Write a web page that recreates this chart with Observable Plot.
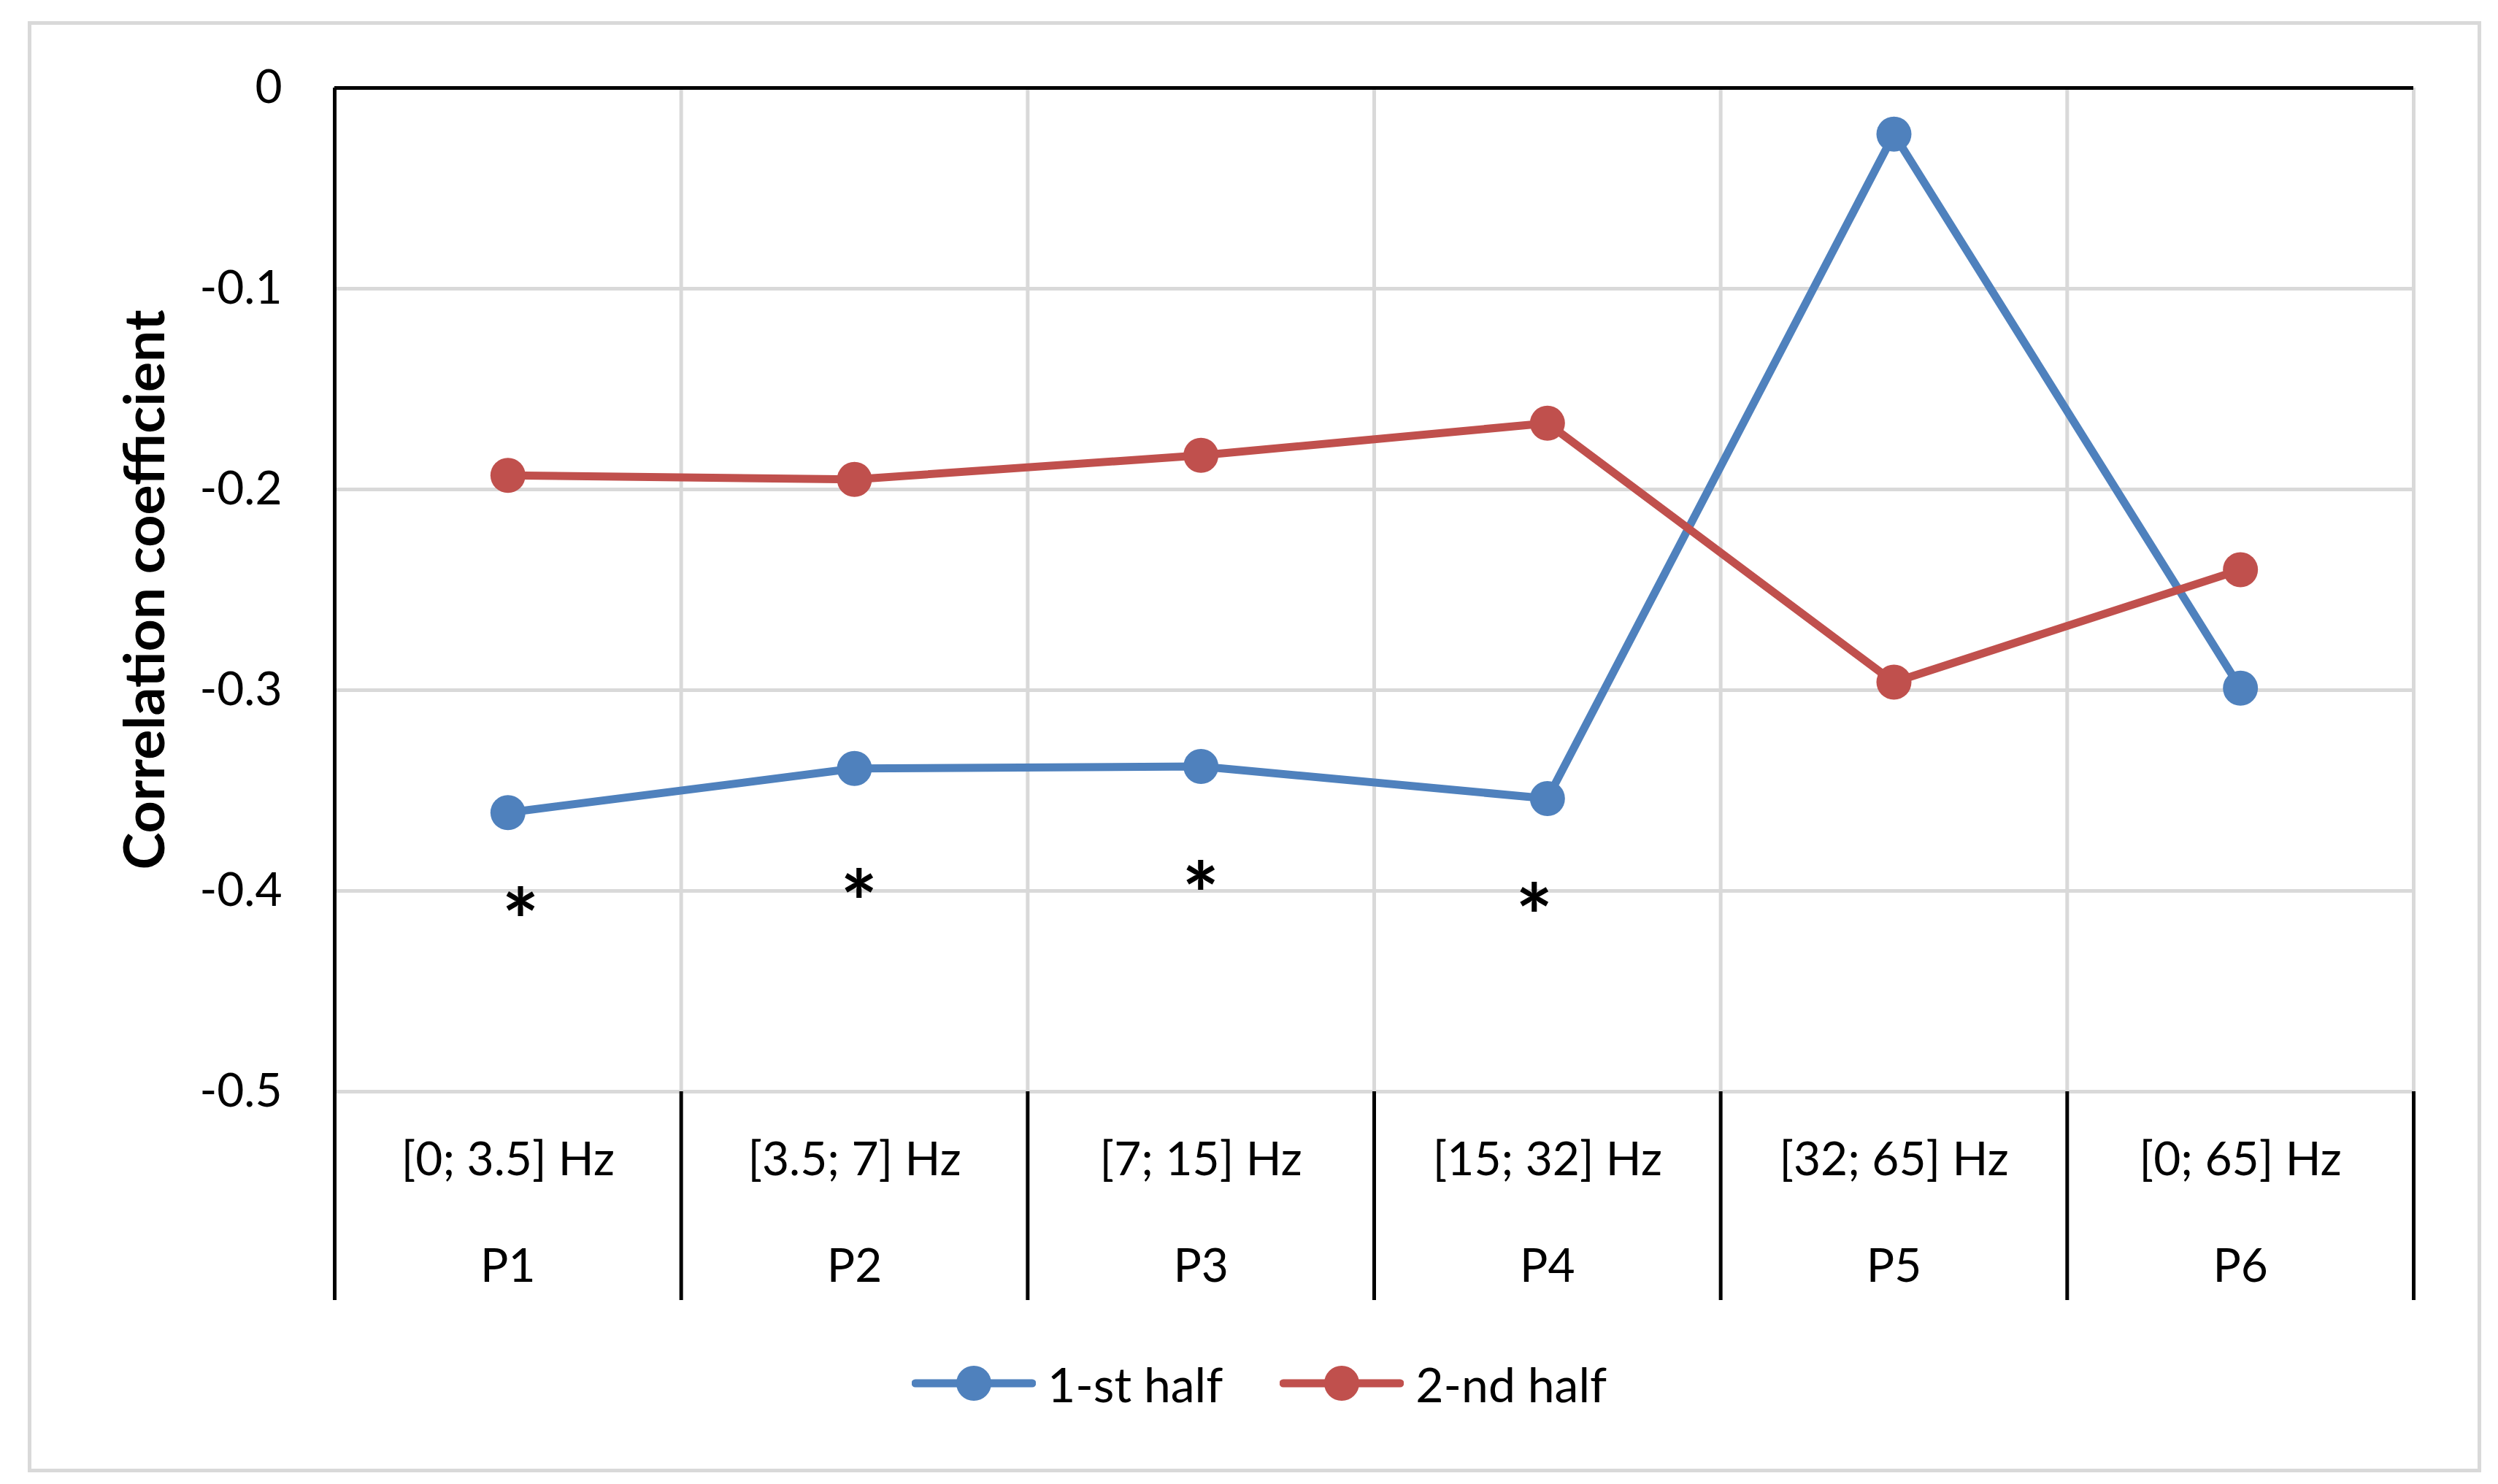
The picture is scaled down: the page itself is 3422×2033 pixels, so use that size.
<!DOCTYPE html>
<html>
<head>
<meta charset="utf-8">
<script src="https://cdn.jsdelivr.net/npm/d3@7"></script>
<script src="https://cdn.jsdelivr.net/npm/@observablehq/plot@0.6"></script>
<style>
  html, body { margin: 0; padding: 0; background: #fff; }
  body { width: 3422px; height: 2033px; position: relative; overflow: hidden; font-family: Lato, "Liberation Sans", sans-serif; }
  #frame { position: absolute; left: 38px; top: 29px; width: 3361px; height: 1988px; border: 5px solid #d9d9d9; box-sizing: border-box; }
  #chart { position: absolute; left: 0; top: 0; }
  #legend { display: flex; align-items: center; height: 110px; padding-left: 1249px; font-size: 66px; color: #000; }
  .item { display: flex; align-items: center; margin-right: 78px; }
  .item svg { margin-right: 16px; }
</style>
</head>
<body>
<div id="frame"></div>
<div id="chart"></div>
<script>
const categories = ["P1", "P2", "P3", "P4", "P5", "P6"];
const bands = ["[0; 3.5] Hz", "[3.5; 7] Hz", "[7; 15] Hz", "[15; 32] Hz", "[32; 65] Hz", "[0; 65] Hz"];
const firstHalf = [-0.361, -0.339, -0.338, -0.354, -0.023, -0.299];
const secondHalf = [-0.193, -0.195, -0.183, -0.167, -0.296, -0.240];
const seriesNames = ["1-st half", "2-nd half"];
const seriesColors = ["#4f81bd", "#c0504d"];
const yTicks = [0, -0.1, -0.2, -0.3, -0.4, -0.5];
const starX = [0.536, 1.513, 2.499, 3.462];
const starY = [-0.405, -0.396, -0.392, -0.403];

const rows = [];
categories.forEach((c, i) => {
  rows.push({series: seriesNames[0], i, cat: c, value: firstHalf[i]});
  rows.push({series: seriesNames[1], i, cat: c, value: secondHalf[i]});
});
const cats = categories.map((c, i) => ({i, cat: c, band: bands[i]}));
const stars = starX.map((x, k) => ({x, y: starY[k]}));
const edges = d3.range(0, categories.length + 1);
const yMin = d3.min(yTicks), yMax = d3.max(yTicks);

const plot = Plot.plot({
  width: 3422,
  height: 1840,
  marginLeft: 458,
  marginRight: 116,
  marginTop: 120,
  marginBottom: 345,
  style: {fontFamily: "Lato, 'Liberation Sans', sans-serif", fontSize: "64px", color: "#000", background: "transparent"},
  x: {type: "linear", domain: [0, categories.length], axis: null},
  y: {domain: [yMin, yMax], axis: null},
  color: {domain: seriesNames, range: seriesColors},
  marks: [
    Plot.ruleY(yTicks.filter(d => d !== yMax), {stroke: "#d9d9d9", strokeWidth: 5}),
    Plot.ruleX(edges.slice(1), {stroke: "#d9d9d9", strokeWidth: 5}),
    Plot.ruleX(edges, {y1: yMin, y2: yMin, insetBottom: -286, stroke: "#000", strokeWidth: 5}),
    Plot.ruleX([0], {stroke: "#000", strokeWidth: 5}),
    Plot.ruleY([yMax], {stroke: "#000", strokeWidth: 5}),
    Plot.axisY({ticks: yTicks, tickSize: 0, tickPadding: 72, tickFormat: d => d === 0 ? "0" : String(d), fontSize: 64, anchor: "left"}),
    Plot.text(["Correlation coefficient"], {frameAnchor: "left", dx: -258, rotate: -90, textAnchor: "middle", fontWeight: "bold", fontSize: 77}),
    Plot.text(cats, {x: d => d.i + 0.5, frameAnchor: "bottom", dy: 94, text: "band", fontSize: 64, lineAnchor: "middle"}),
    Plot.text(cats, {x: d => d.i + 0.5, frameAnchor: "bottom", dy: 240, text: "cat", fontSize: 64, lineAnchor: "middle"}),
    Plot.line(rows, {x: d => d.i + 0.5, y: "value", z: "series", stroke: "series", strokeWidth: 11, strokeLinejoin: "round"}),
    Plot.dot(rows, {x: d => d.i + 0.5, y: "value", fill: "series", r: 24, stroke: null}),
    Plot.text(stars, {x: "x", y: "y", text: () => "*", fontSize: 120, fontWeight: "bold", dy: 33, lineAnchor: "middle"})
  ]
});
document.getElementById("chart").appendChild(plot);

const legend = document.createElement("div");
legend.id = "legend";
seriesNames.forEach((name, k) => {
  const item = document.createElement("div");
  item.className = "item";
  item.innerHTML = `<svg width="170" height="60"><line x1="5" y1="30" x2="165" y2="30" stroke="${seriesColors[k]}" stroke-width="11" stroke-linecap="round"/><circle cx="85" cy="30" r="24" fill="${seriesColors[k]}"/></svg><span>${name}</span>`;
  legend.appendChild(item);
});
document.getElementById("chart").appendChild(legend);
</script>
</body>
</html>
